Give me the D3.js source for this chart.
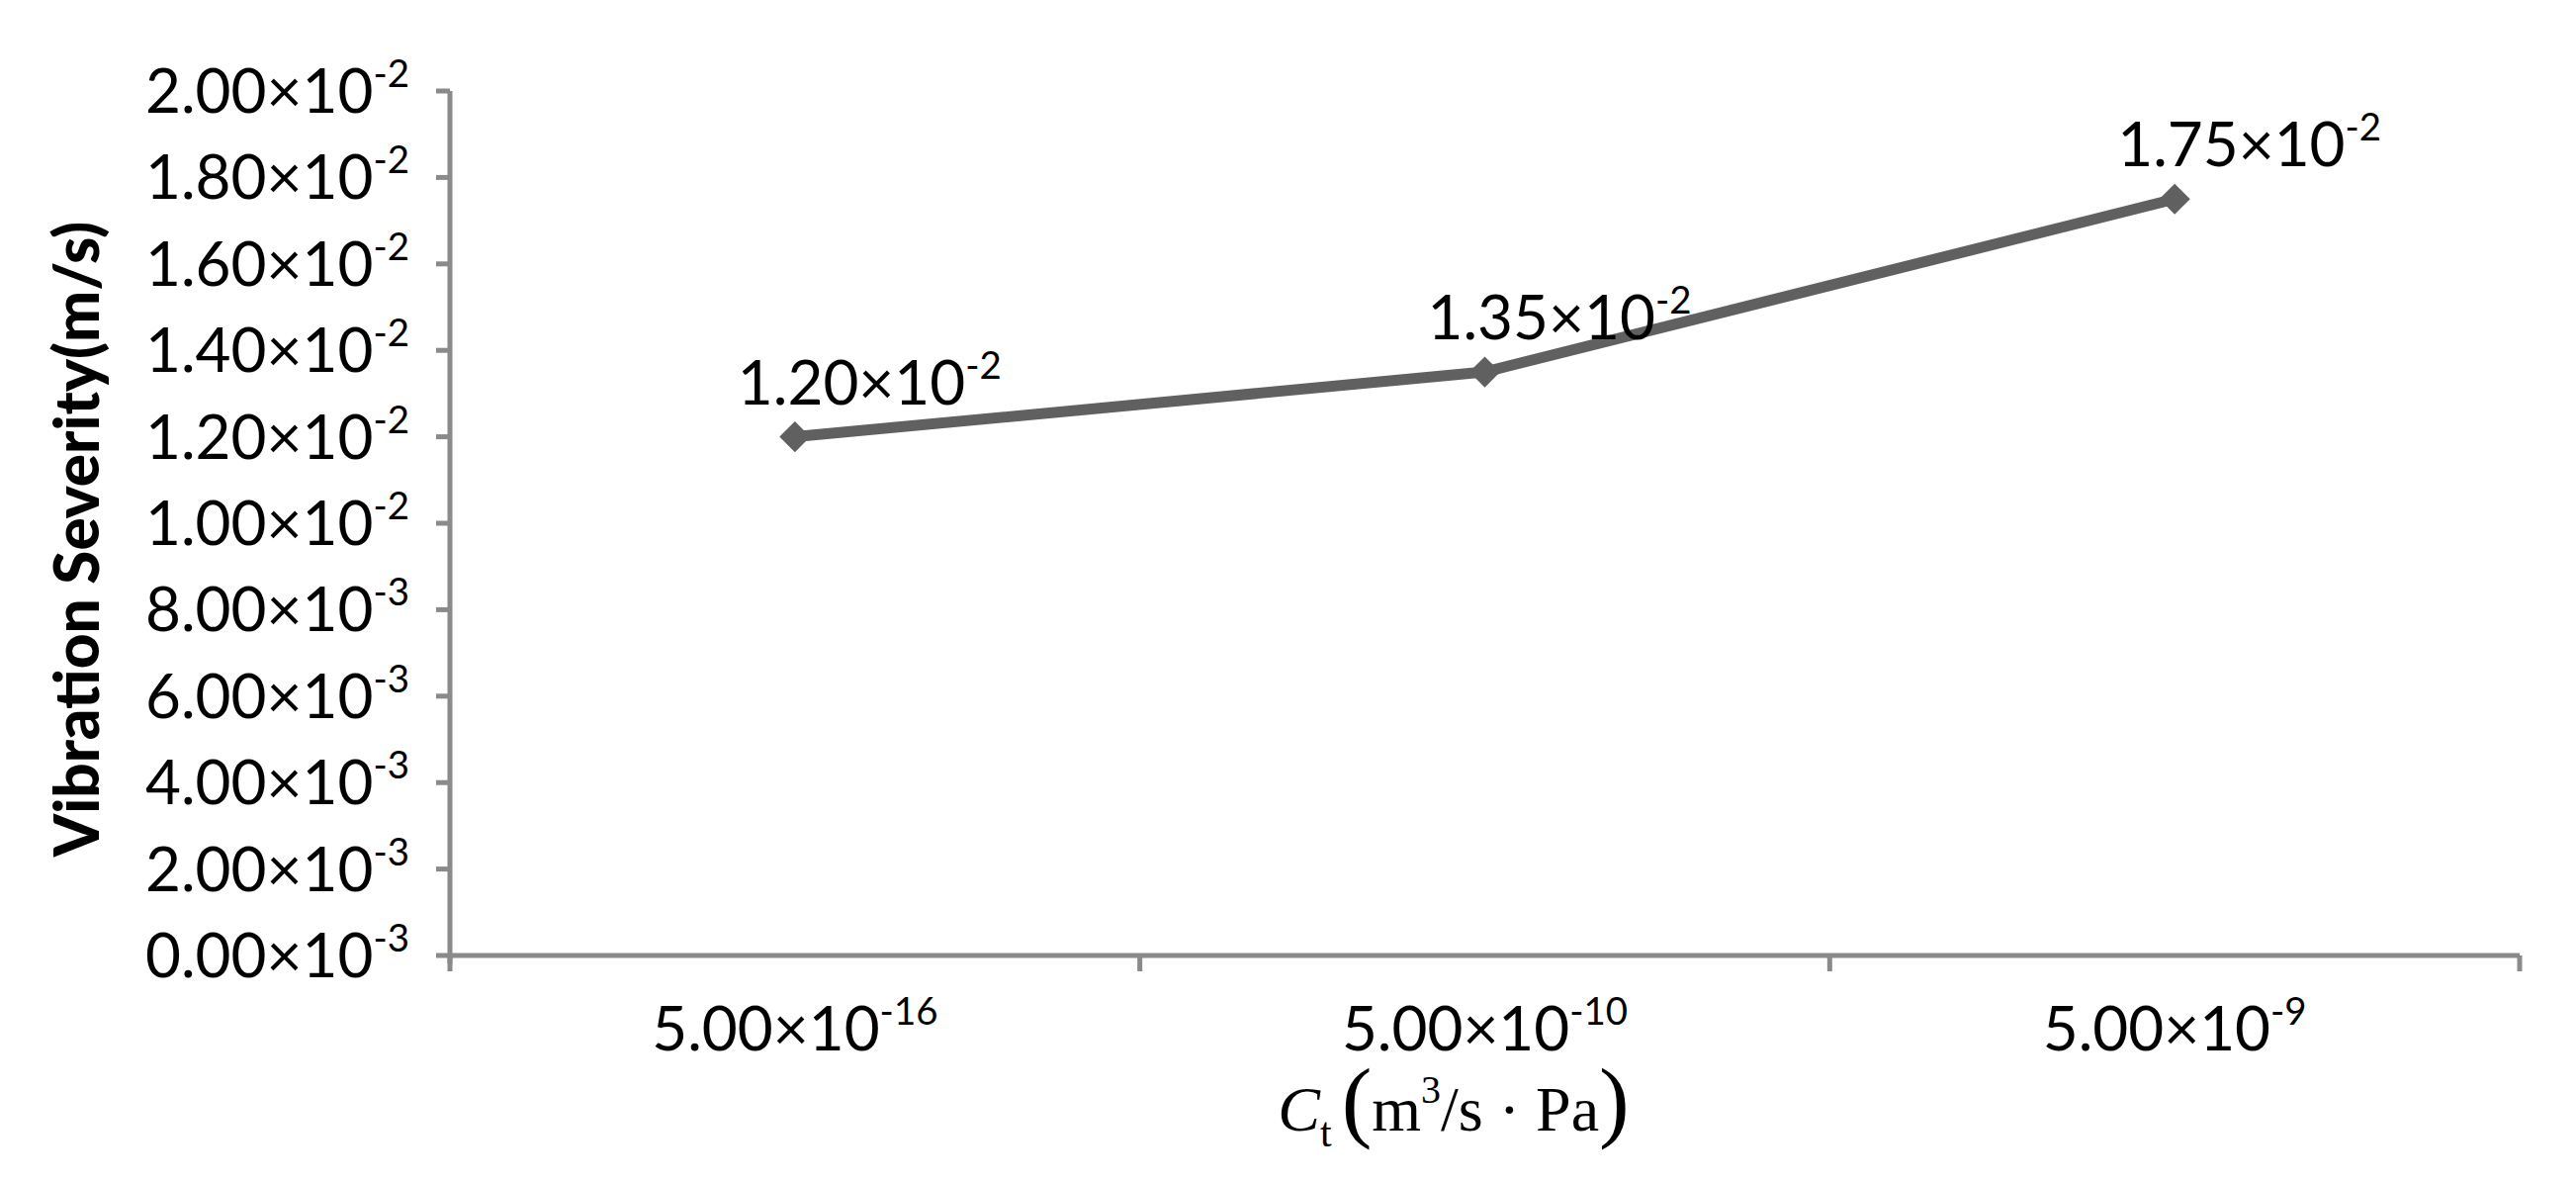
<!DOCTYPE html>
<html><head><meta charset="utf-8">
<script src="https://cdn.jsdelivr.net/npm/d3@7"></script>
<style>body{margin:0;background:#fff}</style></head>
<body><svg id="c" width="2605" height="1195"></svg>
<script>
const categories = ["5.00×10|-16", "5.00×10|-10", "5.00×10|-9"];
const values = [0.0120, 0.0135, 0.0175];
const valueLabels = ["1.20×10|-2", "1.35×10|-2", "1.75×10|-2"];
const yTicks = [0,0.002,0.004,0.006,0.008,0.010,0.012,0.014,0.016,0.018,0.020];
const yTickLabels = ["0.00×10|-3","2.00×10|-3","4.00×10|-3","6.00×10|-3","8.00×10|-3","1.00×10|-2","1.20×10|-2","1.40×10|-2","1.60×10|-2","1.80×10|-2","2.00×10|-2"];

const svg = d3.select("#c");
const L=455, R=2548, T=92, B=966;
const x = d3.scaleBand().domain(categories).range([L,R]);
const y = d3.scaleLinear().domain([0,0.02]).range([B,T]);
const F = "Lato, 'Open Sans', sans-serif";
const axisCol="#8a8a8a";

function supText(g, label, size, anchor){
  const [base, sup] = label.split("|");
  const t = g.append("text").attr("font-family",F).attr("font-size",size).attr("fill","#000").attr("text-anchor",anchor);
  t.append("tspan").text(base);
  t.append("tspan").attr("font-size",size*0.62).attr("dy",-size*0.42).text(sup);
  return t;
}

svg.append("line").attr("x1",L).attr("x2",L).attr("y1",T).attr("y2",B+8).attr("stroke",axisCol).attr("stroke-width",5);
yTicks.forEach((v,i)=>{
  svg.append("line").attr("x1",L-14).attr("x2",L).attr("y1",y(v)).attr("y2",y(v)).attr("stroke",axisCol).attr("stroke-width",5);
  const g=svg.append("g").attr("transform",`translate(414,${y(v)+22})`);
  supText(g,yTickLabels[i],62,"end");
});
svg.append("line").attr("x1",L).attr("x2",R).attr("y1",B).attr("y2",B).attr("stroke",axisCol).attr("stroke-width",5);
[L, ...categories.map(c=>x(c)+x.bandwidth())].forEach(px=>{
  svg.append("line").attr("x1",px).attr("x2",px).attr("y1",B).attr("y2",B+16).attr("stroke",axisCol).attr("stroke-width",5);
});
categories.forEach(c=>{
  const g=svg.append("g").attr("transform",`translate(${x(c)+x.bandwidth()/2},1062)`);
  supText(g,c,62,"middle");
});

const cx = c=>x(c)+x.bandwidth()/2;
const pts = categories.map((c,i)=>[cx(c), y(values[i])]);
svg.append("path").attr("d",d3.line()(pts)).attr("fill","none").attr("stroke","#606060").attr("stroke-width",11).attr("stroke-linejoin","round");
pts.forEach(p=>{
  svg.append("path").attr("d",d3.symbol(d3.symbolDiamond2,620)()).attr("transform",`translate(${p[0]},${p[1]})`).attr("fill","#606060");
});
pts.forEach((p,i)=>{
  const g=svg.append("g").attr("transform",`translate(${p[0]-58},${p[1]-33})`);
  supText(g,valueLabels[i],62,"start");
});

svg.append("text").attr("transform","translate(100,545) rotate(-90)").attr("text-anchor","middle")
  .attr("font-family",F).attr("font-weight","900").attr("font-size",62).attr("fill","#000").text("Vibration Severity(m/s)");

const xt = svg.append("text").attr("x",1470).attr("y",1143).attr("text-anchor","middle").attr("font-family","'Liberation Serif', serif").attr("font-size",64).attr("fill","#000");
xt.append("tspan").attr("font-style","italic").text("C");
xt.append("tspan").attr("font-size",42).attr("dy",16).text("t");
xt.append("tspan").attr("dy",-16).attr("font-size",92).attr("dx",10).text("(");
xt.append("tspan").attr("font-size",64).text("m");
xt.append("tspan").attr("font-size",40).attr("dy",-28).text("3");
xt.append("tspan").attr("font-size",64).attr("dy",28).text("/s · Pa");
xt.append("tspan").attr("font-size",92).text(")");
</script></body></html>
